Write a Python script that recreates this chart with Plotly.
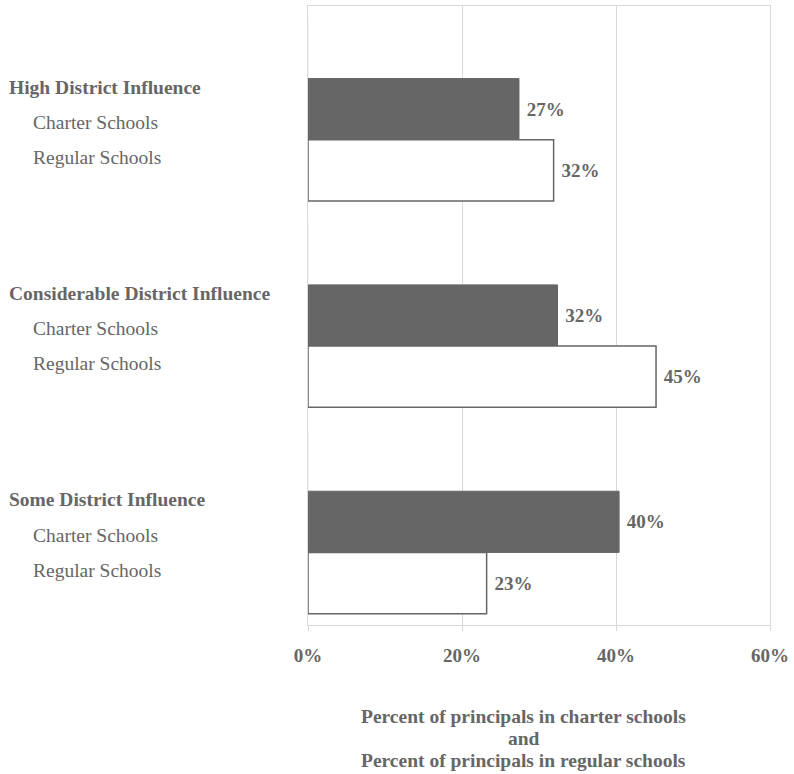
import plotly.graph_objects as go

groups = ["High District Influence", "Considerable District Influence", "Some District Influence"]
sub_labels = ["Charter Schools", "Regular Schools"]
charter = [27.4, 32.4, 40.4]
regular = [31.9, 45.2, 23.2]
blank = [0, 0, 0]
x_ticks = [0, 20, 40, 60]
x_tick_text = ["0%", "20%", "40%", "60%"]
axis_title = ["Percent of principals in charter schools", "and", "Percent of principals in regular schools"]

W, H = 794, 774
L, R, T, B = 308, 21, 5, 149
TXT = "#666666"
FONT = "Liberation Serif"

fig = go.Figure()
fig.add_trace(go.Bar(y=groups, x=blank, orientation="h", marker=dict(color="rgba(0,0,0,0)"),
                     showlegend=False, hoverinfo="skip"))
fig.add_trace(go.Bar(y=groups, x=charter, orientation="h", name="Charter Schools",
                     marker=dict(color="#666666", line=dict(color="#666666", width=1)),
                     texttemplate=" %{x:.0f}%", textposition="outside", constraintext="none",
                     cliponaxis=False,
                     textfont=dict(family=FONT, size=19, color=TXT, weight="bold"), showlegend=False))
fig.add_trace(go.Bar(y=groups, x=regular, orientation="h", name="Regular Schools",
                     marker=dict(color="#ffffff", line=dict(color="#666666", width=1.5)),
                     texttemplate=" %{x:.0f}%", textposition="outside", constraintext="none",
                     cliponaxis=False,
                     textfont=dict(family=FONT, size=19, color=TXT, weight="bold"), showlegend=False))

plot_w = W - L - R
plot_h = H - T - B

def px_to_paper_x(px):
    return (px - L) / plot_w

def px_to_paper_y(py):
    return (H - B - py) / plot_h

annotations = []
group_px = plot_h / len(groups)
for i, g in enumerate(groups):
    center = T + group_px * (i + 0.5)
    annotations.append(dict(text="<b>" + g + "</b>", x=px_to_paper_x(5), xref="paper", xanchor="left",
                            y=px_to_paper_y(center - 22), yref="paper", yanchor="middle", showarrow=False,
                            font=dict(family=FONT, size=19.5, color=TXT)))
    for j, s in enumerate(sub_labels):
        annotations.append(dict(text=s, x=px_to_paper_x(29), xref="paper", xanchor="left",
                                y=px_to_paper_y(center + 13.5 + 35 * j), yref="paper", yanchor="middle",
                                showarrow=False, font=dict(family=FONT, size=19.5, color=TXT)))
for k, line in enumerate(axis_title):
    annotations.append(dict(text="<b>" + line + "</b>", x=px_to_paper_x(525), xref="paper", xanchor="center",
                            y=px_to_paper_y(717 + 22 * k), yref="paper", yanchor="middle", showarrow=False,
                            font=dict(family=FONT, size=19.5, color=TXT)))

fig.update_layout(
    width=W, height=H,
    margin=dict(l=L, r=R, t=T, b=B),
    paper_bgcolor="white", plot_bgcolor="white",
    barmode="group", bargap=0.11, bargroupgap=0,
    xaxis=dict(range=[0, 60], tickvals=x_ticks, ticktext=x_tick_text,
               showgrid=True, gridcolor="#d9d9d9", gridwidth=1,
               showline=True, linecolor="#d9d9d9", linewidth=1, mirror=True,
               ticks="outside", ticklen=5, tickcolor="#d9d9d9",
               ticklabelstandoff=8,
               tickfont=dict(family=FONT, size=19, color=TXT, weight="bold"),
               zeroline=False, fixedrange=True),
    yaxis=dict(autorange="reversed", showticklabels=False, showgrid=False,
               showline=True, linecolor="#d9d9d9", linewidth=1, mirror=True,
               ticks="", zeroline=False, fixedrange=True),
    annotations=annotations,
    font=dict(family=FONT, color=TXT),
)

fig.write_html("out.html")
